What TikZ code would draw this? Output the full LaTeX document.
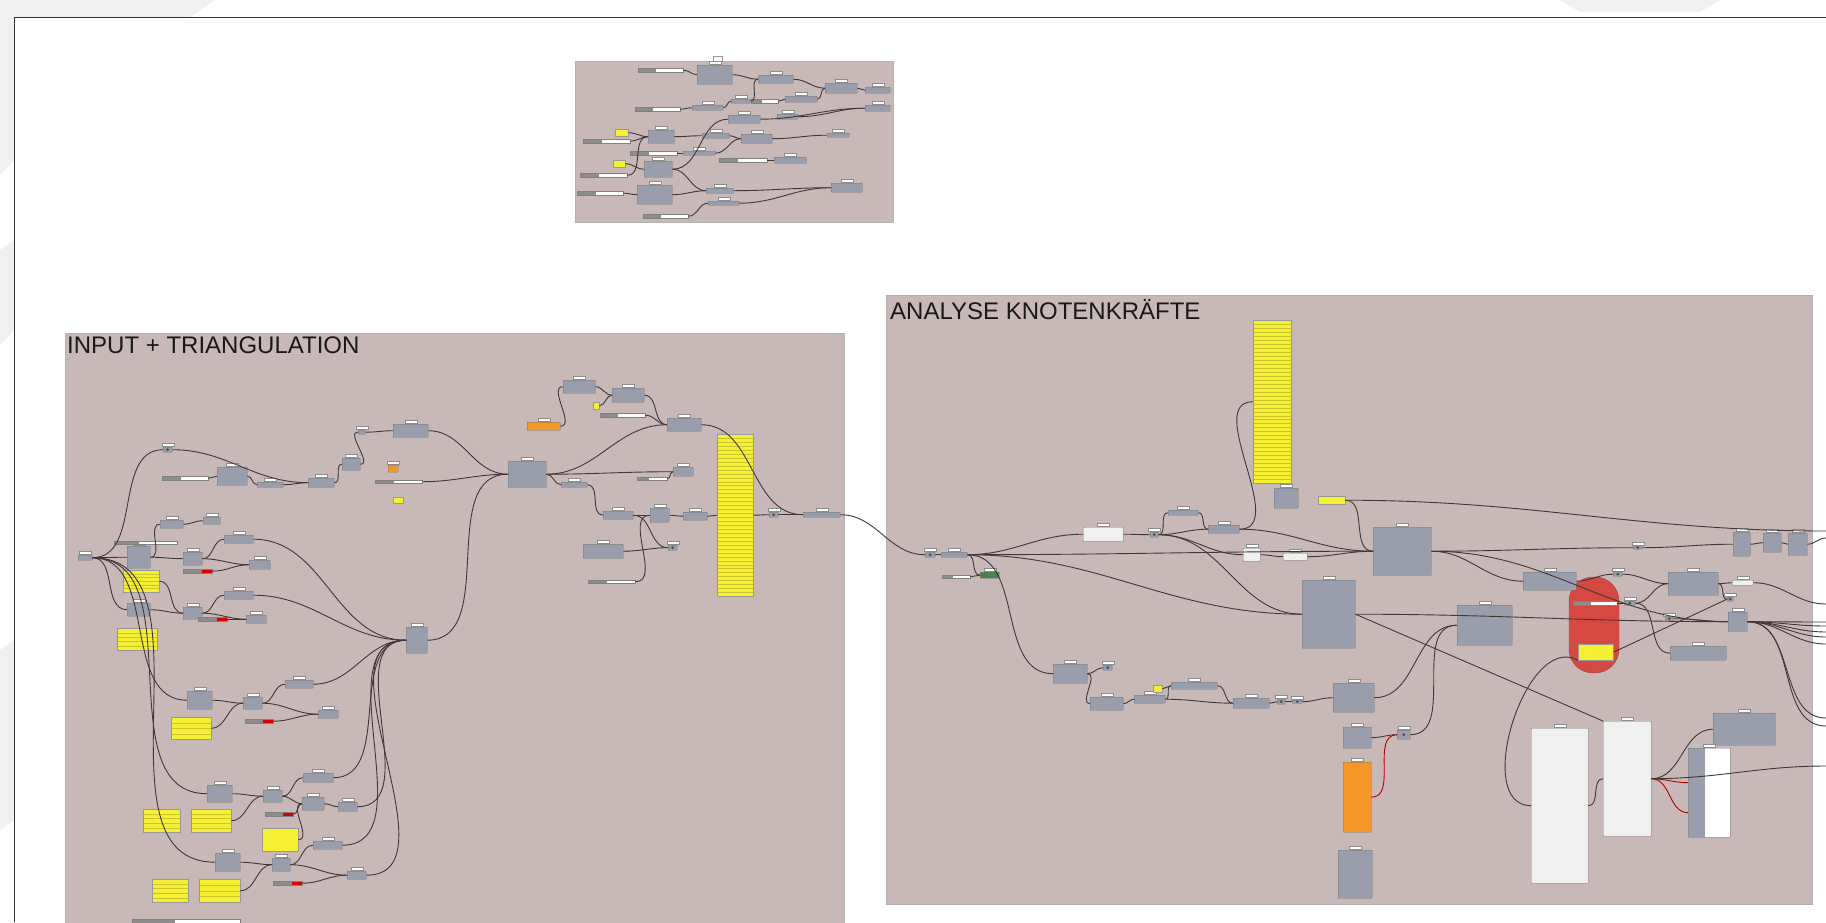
\documentclass[tikz,border=0pt]{standalone}
\usepackage{fontspec}
\setmainfont{Liberation Sans}
\usetikzlibrary{calc}
\definecolor{groupc}{RGB}{200,185,184}
\definecolor{compc}{RGB}{154,158,172}
\definecolor{panelc}{RGB}{246,240,52}
\definecolor{orangec}{RGB}{244,150,40}
\definecolor{blobc}{RGB}{214,72,66}
\definecolor{wirec}{RGB}{66,54,54}
\definecolor{swoosh}{RGB}{240,240,240}
\begin{document}
\begin{tikzpicture}[x=1pt, y=-1pt, label distance=1pt,
    group/.style={draw=black!30, fill=groupc},
    title/.style={font=\fontsize{24}{24}\selectfont, anchor=base west, inner sep=0, text=black!90},
    tag/.style={draw=black!45, fill=white, minimum width=12pt, minimum height=3pt, inner sep=0},
    comp/.style={draw=black!55, fill=compc, rounded corners=0.5pt, inner sep=0,
                 anchor=north west, label={[tag]above:{}}},
    whitecomp/.style={comp, fill=white!88!gray},
    orangecomp/.style={comp, fill=orangec},
    param/.style={comp, path picture={\fill[black!70] (path picture bounding box.center) circle (1.5pt);}},
    panel/.style={draw=black!40, fill=panelc, inner sep=0, anchor=north west},
    rows/.style={path picture={\foreach \k in {1,...,#1}
        \draw[panelc!82!black, line width=0.2pt]
          ($(path picture bounding box.north west)!\k/(#1+1)!(path picture bounding box.south west)$) --
          ($(path picture bounding box.north east)!\k/(#1+1)!(path picture bounding box.south east)$);}},
    slider/.style={draw=black!50, fill=black!45, inner sep=0, anchor=north west,
                   path picture={\fill[white] ($(path picture bounding box.south west)!0.4!(path picture bounding box.south east)$) rectangle (path picture bounding box.north east);}},
    redslider/.style={slider, path picture={\fill[red!85!black] ($(path picture bounding box.south west)!0.65!(path picture bounding box.south east)$) rectangle (path picture bounding box.north east);}},
    sz/.style 2 args={minimum width=#1pt, minimum height=#2pt},
    wire/.style={draw=wirec, line width=0.9pt, out=0, in=180},
    redwire/.style={wire, draw=red!70!black},
  ]
  \useasboundingbox (0,0) rectangle (1826,922);
  \clip (0,0) rectangle (1826,922);
  \fill[white] (0,0) rectangle (1826,922);
  % canvas background
  \fill[swoosh] (0,0) -- (215,0) -- (190,17) -- (0,17) -- cycle;
  \fill[swoosh] (0,17) -- (14,17) -- (14,160) -- (0,175) -- cycle;
  \fill[swoosh] (0,250) -- (14,240) -- (14,330) -- (0,345) -- cycle;
  \fill[swoosh] (0,650) -- (14,640) -- (14,820) -- (0,830) -- cycle;
  \fill[swoosh] (1560,0) -- (1720,0) -- (1700,12) -- (1580,12) -- cycle;
  \draw[black!80, line width=0.8pt] (1826,17) -- (14,17) -- (14,922);

  % ---------------- top group ----------------
  \draw[group] (575,61) rectangle (893,222);
  \draw[draw=black!40, fill=white] (713,56) rectangle (722,61);
  \node[slider, sz={45}{4}] (ts1) at (638,68) {};
  \node[comp, sz={35}{19}] (t1) at (697,65) {};
  \node[comp, sz={35}{8}] (t2) at (758,75) {};
  \node[comp, sz={32}{10}] (t3) at (825,83) {};
  \node[comp, sz={25}{6}] (t4) at (865,87) {};
  \node[comp, sz={25}{6}] (t5) at (865,105) {};
  \node[slider, sz={45}{4}] (ts2) at (635,107) {};
  \node[comp, sz={31}{5}] (t6) at (692,105) {};
  \node[comp, sz={19}{4}] (t7) at (731,99) {};
  \node[slider, sz={27}{4}] (ts3) at (751,99) {};
  \node[comp, sz={32}{6}] (t8) at (785,96) {};
  \node[comp, sz={32}{8}] (t9) at (728,115) {};
  \node[comp, sz={21}{5}] (t10) at (777,114) {};
  \node[panel, sz={13}{7}] (tp1) at (615,129) {};
  \node[comp, sz={26}{13}] (t11) at (648,130) {};
  \node[slider, sz={47}{4}] (ts4) at (583,139) {};
  \node[comp, sz={27}{5}] (t12) at (702,133) {};
  \node[comp, sz={31}{9}] (t13) at (741,134) {};
  \node[comp, sz={22}{4}] (t14) at (827,133) {};
  \node[slider, sz={47}{4}] (ts5) at (630,151) {};
  \node[comp, sz={32}{4}] (t15) at (683,151) {};
  \node[panel, sz={12}{7}] (tp2) at (613,160) {};
  \node[comp, sz={28}{16}] (t16) at (644,161) {};
  \node[slider, sz={47}{4}] (ts6) at (580,173) {};
  \node[slider, sz={48}{4}] (ts7) at (719,158) {};
  \node[comp, sz={32}{6}] (t17) at (774,157) {};
  \node[comp, sz={35}{19}] (t18) at (637,185) {};
  \node[slider, sz={46}{4}] (ts8) at (577,191) {};
  \node[comp, sz={27}{5}] (t19) at (706,188) {};
  \node[comp, sz={31}{9}] (t20) at (831,183) {};
  \node[comp, sz={31}{4}] (t21) at (708,201) {};
  \node[slider, sz={45}{4}] (ts9) at (643,214) {};
  \foreach \a/\b in {ts1/t1, t1/t2, t2/t3, t3/t4, t8/t3, ts3/t8, ts2/t6, t6/t7, t7/t2,
                     t9/t5, t10/t5, tp1/t11, ts4/t11, t11/t12, t12/t13, t13/t14, ts5/t15,
                     t15/t13, tp2/t16, ts6/t11, t16/t9, t16/t19, t19/t20, ts8/t18,
                     t18/t19, ts9/t21, t21/t20, ts7/t17}
    \draw[wire] (\a.east) to (\b.west);

  % ---------------- INPUT + TRIANGULATION ----------------
  \draw[group] (65,333) rectangle (844,930);
  \node[title] (inputtitle) at (67,353) {INPUT + TRIANGULATION};
  % upper chain
  \node[param, sz={9}{5}] (i0) at (163,447) {};
  \node[slider, sz={46}{4}] (is1) at (162,476) {};
  \node[comp, sz={30}{18}] (i1) at (217,467) {};
  \node[comp, sz={26}{5}] (i2) at (257,482) {};
  \node[comp, sz={26}{9}] (i3) at (308,478) {};
  \node[comp, sz={18}{12}] (i4) at (342,458) {};
  \node[comp, sz={7}{4}] (i5) at (358,430) {};
  \node[comp, sz={35}{13}] (i6) at (393,424) {};
  \node[orangecomp, sz={10}{7}] (i7) at (388,465) {};
  \node[slider, sz={47}{3}] (is2) at (375,480) {};
  \node[panel, sz={10}{6}] (ip1) at (393,497) {};
  % left column of points
  \node[comp, sz={14}{5}] (i8) at (78,555) {};
  \node[comp, sz={23}{22}] (i9) at (127,546) {};
  \node[slider, sz={63}{3}] (is3) at (114,541) {};
  \node[panel, rows=5, sz={36}{22}] (ip2) at (123,570) {};
  \node[comp, sz={23}{8}] (i10) at (160,520) {};
  \node[comp, sz={17}{7}] (i11) at (203,517) {};
  \node[comp, sz={19}{13}] (i12) at (183,552) {};
  \node[comp, sz={29}{8}] (i13) at (224,535) {};
  \node[comp, sz={21}{9}] (i14) at (249,560) {};
  \node[redslider, sz={29}{4}] (ir1) at (183,569) {};
  \node[comp, sz={23}{13}] (i15) at (127,603) {};
  \node[comp, sz={19}{12}] (i16) at (183,607) {};
  \node[comp, sz={29}{8}] (i17) at (224,591) {};
  \node[comp, sz={20}{8}] (i18) at (246,615) {};
  \node[redslider, sz={29}{4}] (ir2) at (198,617) {};
  \node[panel, rows=4, sz={40}{22}] (ip3) at (117,628) {};
  \node[comp, sz={21}{26}] (i19) at (406,627) {};
  \node[comp, sz={25}{18}] (i20) at (187,691) {};
  \node[comp, sz={19}{12}] (i21) at (243,697) {};
  \node[comp, sz={28}{8}] (i22) at (285,680) {};
  \node[comp, sz={20}{8}] (i23) at (318,710) {};
  \node[redslider, sz={28}{4}] (ir3) at (245,719) {};
  \node[panel, rows=3, sz={40}{22}] (ip4) at (171,717) {};
  \node[comp, sz={25}{17}] (i24) at (207,785) {};
  \node[comp, sz={19}{12}] (i25) at (263,790) {};
  \node[comp, sz={30}{9}] (i26) at (303,773) {};
  \node[comp, sz={22}{13}] (i27) at (302,797) {};
  \node[comp, sz={19}{9}] (i28) at (338,802) {};
  \node[redslider, sz={28}{4}] (ir4) at (265,812) {};
  \node[panel, rows=4, sz={37}{23}] (ip5) at (143,809) {};
  \node[panel, rows=4, sz={40}{23}] (ip6) at (191,809) {};
  \node[panel, sz={36}{23}] (ip7) at (262,828) {};
  \node[comp, sz={25}{18}] (i29) at (215,853) {};
  \node[comp, sz={18}{13}] (i30) at (272,858) {};
  \node[comp, sz={29}{8}] (i31) at (313,841) {};
  \node[comp, sz={19}{8}] (i32) at (347,871) {};
  \node[redslider, sz={29}{4}] (ir5) at (273,881) {};
  \node[panel, rows=4, sz={36}{23}] (ip8) at (152,879) {};
  \node[panel, rows=3, sz={41}{23}] (ip9) at (199,879) {};
  \node[slider, sz={108}{4}] (is4) at (132,919) {};
  % right part: triangulation
  \node[comp, sz={32}{13}] (i33) at (563,380) {};
  \node[comp, sz={32}{14}] (i34) at (612,388) {};
  \node[panel, sz={6}{7}] (ip10) at (593,402) {};
  \node[slider, sz={45}{4}] (is5) at (600,413) {};
  \node[orangecomp, sz={33}{8}] (i35) at (527,422) {};
  \node[comp, sz={34}{13}] (i36) at (667,418) {};
  \node[comp, sz={38}{26}] (i37) at (508,461) {};
  \node[comp, sz={26}{5}] (i38) at (561,482) {};
  \node[comp, sz={20}{9}] (i39) at (673,467) {};
  \node[slider, sz={30}{3}] (is6) at (637,477) {};
  \node[comp, sz={30}{8}] (i40) at (603,511) {};
  \node[comp, sz={19}{14}] (i41) at (650,508) {};
  \node[comp, sz={24}{8}] (i42) at (683,512) {};
  \node[panel, rows=40, sz={36}{162}] (ip11) at (717,434) {};
  \node[param, sz={9}{5}] (i43) at (769,512) {};
  \node[comp, sz={37}{5}] (i44) at (803,512) {};
  \node[comp, sz={40}{14}] (i45) at (583,544) {};
  \node[param, sz={9}{5}] (i46) at (668,545) {};
  \node[slider, sz={47}{3}] (is7) at (588,580) {};
  \foreach \a/\b in {i8/i0, i0/i3, is1/i1, i1/i2, i2/i3, i3/i4, i4/i5, i5/i6, i6/i37,
                     i8/i9, i8/i15, i8/i20, i8/i24, i8/i29, i9/i10, i9/i12, i10/i11,
                     i12/i13, i12/i14, ir1/i14, i13/i19, ip2/i16, i15/i16, i16/i17,
                     i16/i18, ir2/i18, i17/i19, i20/i21, ip4/i21, i21/i22, i21/i23,
                     ir3/i23, i22/i19, i24/i25, ip6/i25, i25/i26, i25/i27, ir4/i27,
                     ip7/i27, i27/i28, i26/i19, i29/i30, ip9/i30, i30/i31, i30/i32,
                     ir5/i32, i31/i19, i28/i19, i32/i19, i19/i37, is2/i37, i37/i36,
                     i37/i39, i37/i38, i38/i40, i40/i41, i41/i42, i42/ip11, ip11/i43,
                     i43/i44, i36/i44, i35/i33, i33/i34, ip10/i34, i34/i36, is5/i36,
                     is6/i39, i45/i46, i40/i46, is7/i41}
    \draw[wire] (\a.east) to (\b.west);

  % ---------------- ANALYSE KNOTENKRAEFTE ----------------
  \draw[group] (886,295) rectangle (1812,904);
  \node[title] (analysetitle) at (890,319) {ANALYSE KNOTENKRÄFTE};
  \fill[blobc, draw=blobc!80!black, rounded corners=24pt] (1569,577) rectangle (1619,673);
  \node[panel, rows=40, sz={38}{163}] (ap1) at (1253,320) {};
  \node[comp, sz={24}{20}] (a1) at (1274,488) {};
  \node[panel, sz={27}{8}] (ap2) at (1318,496) {};
  \node[whitecomp, sz={40}{14}] (a2) at (1083,527) {};
  \node[param, sz={8}{5}] (a3) at (1150,532) {};
  \node[comp, sz={30}{5}] (a4) at (1168,510) {};
  \node[comp, sz={31}{8}] (a5) at (1208,525) {};
  \node[whitecomp, sz={17}{13}] (a6) at (1243,548) {};
  \node[whitecomp, sz={24}{7}] (a7) at (1283,553) {};
  \node[param, sz={10}{5}] (a8) at (925,552) {};
  \node[comp, sz={26}{5}] (a9) at (941,552) {};
  \node[slider, sz={28}{3}] (as1) at (942,575) {};
  \node[comp, fill=black!50!green!40!gray, sz={19}{6}] (a10) at (980,572) {};
  \node[comp, sz={58}{48}] (a11) at (1373,527) {};
  \node[comp, sz={53}{68}] (a12) at (1302,580) {};
  \node[comp, sz={55}{40}] (a13) at (1457,605) {};
  \node[comp, sz={53}{18}] (a14) at (1523,572) {};
  \node[slider, sz={44}{4}] (as2) at (1573,601) {};
  \node[panel, sz={35}{16}] (ap3) at (1578,644) {};
  \node[param, sz={9}{4}] (a15) at (1613,572) {};
  \node[param, sz={11}{4}] (a16) at (1624,601) {};
  \node[comp, sz={50}{23}] (a17) at (1668,572) {};
  \node[whitecomp, sz={21}{5}] (a18) at (1732,580) {};
  \node[param, sz={6}{4}] (a19) at (1727,597) {};
  \node[param, sz={8}{3}] (a20) at (1665,617) {};
  \node[comp, sz={19}{19}] (a21) at (1728,612) {};
  \node[comp, sz={56}{14}] (a22) at (1670,646) {};
  \node[param, sz={9}{3}] (a23) at (1633,546) {};
  \node[comp, sz={17}{24}] (a24) at (1733,532) {};
  \node[comp, sz={18}{19}] (a25) at (1763,533) {};
  \node[comp, sz={19}{22}] (a26) at (1788,533) {};
  \node[comp, sz={41}{29}] (a27) at (1333,683) {};
  \node[comp, sz={28}{21}] (a28) at (1343,727) {};
  \node[param, sz={13}{9}] (a29) at (1397,730) {};
  \node[orangecomp, sz={28}{70}] (a30) at (1343,762) {};
  \node[comp, sz={34}{48}] (a31) at (1338,850) {};
  \node[whitecomp, sz={57}{155}] (a32) at (1531,728) {};
  \node[whitecomp, sz={48}{115}] (a33) at (1603,721) {};
  \node[comp, sz={62}{32}] (a34) at (1713,713) {};
  \node[comp, sz={42}{89}, path picture={\fill[white] ($(path picture bounding box.south west)!0.4!(path picture bounding box.south east)$) rectangle (path picture bounding box.north east);}] (a35) at (1688,748) {};
  \node[comp, sz={34}{19}] (a36) at (1053,664) {};
  \node[param, sz={9}{5}] (a37) at (1103,665) {};
  \node[comp, sz={33}{13}] (a38) at (1090,697) {};
  \node[comp, sz={31}{8}] (a39) at (1134,695) {};
  \node[panel, sz={9}{7}] (ap4) at (1153,685) {};
  \node[comp, sz={46}{7}] (a40) at (1171,682) {};
  \node[comp, sz={36}{10}] (a41) at (1233,698) {};
  \node[param, sz={8}{5}] (a42) at (1277,699) {};
  \node[param, sz={10}{3}] (a43) at (1292,700) {};
  % free ends at the right border
  \coordinate (e1) at (1826,531);
  \coordinate (e2) at (1826,538);
  \coordinate (e3) at (1826,604);
  \coordinate (e4) at (1826,622);
  \coordinate (e5) at (1826,626);
  \coordinate (e6) at (1826,632);
  \coordinate (e7) at (1826,637);
  \coordinate (e8) at (1826,644);
  \coordinate (e9) at (1826,766);
  \coordinate (e10) at (1826,718);
  \coordinate (e11) at (1826,726);
  \draw[wire] (i44.east) to (a8.west);
  \foreach \a/\b in {a8/a9, a9/a11, a9/a10, as1/a10, a9/a36, a9/a12, a9/a2, a2/a3, a3/a4,
                     a4/a5, a3/a5, a5/a11, a5/ap1, a3/a6, a6/a7, a7/a11, a3/a12, ap2/a11,
                     a11/a21, a11/a14, a11/a23, a23/a24, a24/a25, a25/a26, a12/a21,
                     a27/a13, a29/a13, a14/a15, a15/a17, as2/a16, a16/a17, a16/a22,
                     a17/a18, a17/a19, a20/a21, a36/a37, a36/a38, a38/a39, ap4/a40,
                     a39/a40, a40/a41, a39/a41, a41/a42, a42/a43, a43/a27, a28/a29,
                     a32/a33, a33/a34}
    \draw[wire] (\a.east) to (\b.west);
  \draw[redwire] (a30.east) to (a29.west);
  \draw[redwire] (a33.east) to ([yshift=-20pt]a35.west);
  \draw[redwire] (a33.east) to ([yshift=10pt]a35.west);
  \draw[wire] (ap2.east) to (e1);
  \draw[wire] (a26.east) to (e2);
  \draw[wire] (a18.east) to (e3);
  \foreach \e in {e4,e5,e6,e7,e8,e10,e11}
    \draw[wire] (a21.east) to (\e);
  \draw[wire] (a12.east) -- (a33.north west);
  \draw[wire] (a33.east) to (e9);
  \draw[wire] (ap3.east) -- (a19.west);
  \draw[wire] (a32.west) to[out=180, in=150] (ap3.south west);
\end{tikzpicture}
\end{document}
